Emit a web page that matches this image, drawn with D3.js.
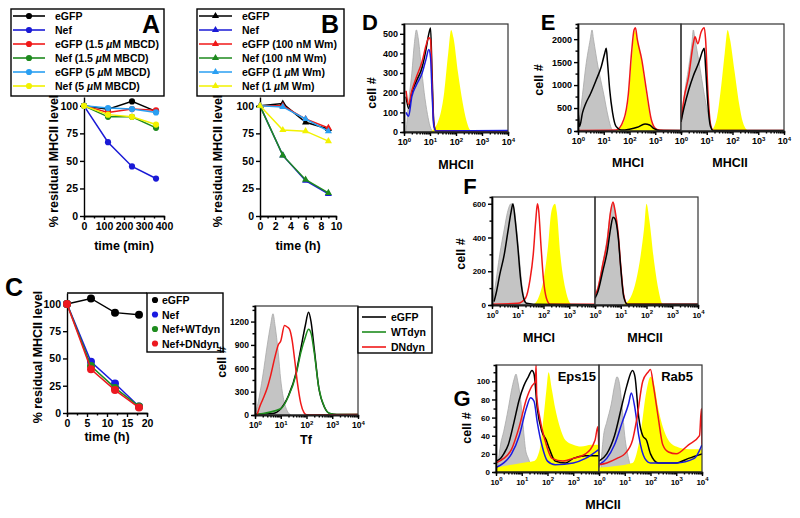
<!DOCTYPE html>
<html>
<head>
<meta charset="utf-8">
<script src="https://cdn.jsdelivr.net/npm/d3@7"></script>
<style>
  body { margin: 0; background: #fff; }
  svg { font-family: Arial, "Liberation Sans", sans-serif; font-weight: bold; }
</style>
</head>
<body>
<svg id="fig" width="800" height="518"></svg>
<script>
// ---------- panel A : MBCD time course ----------
var timeA = [0, 120, 240, 360];
var namesA = ["eGFP", "Nef", "eGFP (1.5 µM MBCD)", "Nef (1.5 µM MBCD)", "eGFP (5 µM MBCD)", "Nef (5 µM MBCD)"];
var eGFP_A = [100, 97, 104, 95];
var nef_A = [100, 67, 45, 34];
var eGFP15_A = [100, 94, 97, 96];
var nef15_A = [100, 90, 90, 80];
var eGFP5_A = [100, 98, 97, 94];
var nef5_A = [100, 92, 90, 83];

// ---------- panel B : wortmannin time course ----------
var timeB = [0, 3, 6, 9];
var namesB = ["eGFP", "Nef", "eGFP (100 nM Wm)", "Nef (100 nM Wm)", "eGFP (1 µM Wm)", "Nef (1 µM Wm)"];
var eGFP_B = [100, 102, 85, 79];
var nef_B = [100, 55, 32, 20];
var eGFP100_B = [100, 100, 88, 80];
var nef100_B = [100, 55, 33, 21];
var eGFP1_B = [100, 99, 88, 77];
var nef1_B = [100, 78, 77, 68];

// ---------- panel C : dynamin ----------
var timeC = [0, 6, 12, 18];
var namesC = ["eGFP", "Nef", "Nef+WTdyn", "Nef+DNdyn"];
var eGFP_C = [100, 105, 92, 90];
var nef_C = [100, 47, 27, 6];
var nefWT_C = [100, 43, 23, 6];
var nefDN_C = [100, 40, 21, 5];

// histograms: [fluorescence, cell count]
var namesTf = ["eGFP", "WTdyn", "DNdyn"];
var tfGray = [[1,0],[1.3,150],[2,500],[3,900],[4,1150],[5,1300],[6,1150],[8,800],[10,450],[13,200],[18,50],[25,0]];
var tfEGFP = [[1,10],[5,20],[10,80],[20,250],[40,550],[60,850],[90,1150],[120,1320],[150,1200],[200,850],[300,350],[500,100],[800,20],[1500,5],[10000,5]];
var tfWT = [[1,5],[10,80],[20,240],[40,530],[60,800],[90,1000],[120,1100],[150,1050],[200,800],[300,350],[500,100],[800,20],[1500,5],[10000,5]];
var tfDN = [[1.2,0],[1.5,100],[2,200],[3,350],[4,500],[6,750],[8,900],[10,950],[14,1150],[18,1130],[22,1100],[28,950],[35,700],[45,400],[60,150],[80,30],[100,3],[10000,5]];

var dGray = [[1.2,0],[1.5,150],[2,300],[2.5,450],[3,520],[3.5,480],[4.5,350],[6,200],[8,90],[10,30],[13,0]];
var dYellow = [[10,0],[20,50],[35,200],[50,400],[65,520],[80,480],[120,300],[180,150],[250,60],[350,10],[500,0]];
var dBlack = [[1.2,180],[1.5,120],[2,200],[3,260],[5,330],[7,420],[9,500],[10.5,530],[12,300],[14,50],[17,5],[10000,5]];
var dRed = [[1.2,210],[1.5,140],[2,210],[3,280],[5,360],[7,440],[9,480],[10.5,470],[12,250],[14,40],[17,5],[10000,5]];
var dBlue = [[1.2,100],[1.5,80],[2,180],[3,240],[5,300],[7,370],[9,420],[10.5,380],[12,200],[14,30],[17,5],[10000,8]];

var eIGray = [[1,0],[1.5,800],[2,1400],[3,2000],[3.5,2200],[4,2000],[6,1400],[10,800],[15,300],[20,50],[25,0]];
var eIYellow = [[30,0],[60,200],[90,700],[120,1500],[160,2200],[200,2000],[300,1500],[450,800],[700,200],[1000,30],[1500,0]];
var eIBlack = [[1,450],[1.15,100],[1.5,400],[2,600],[3,800],[5,1100],[8,1400],[11,1700],[12.5,1800],[14,1500],[17,900],[22,400],[30,100],[50,20],[100,40],[200,80],[400,150],[600,130],[900,50],[1500,10],[10000,10]];
var eIRed = [[1,10],[30,20],[60,250],[90,800],[120,1700],[150,2200],[170,2250],[200,2000],[300,1550],[450,900],[700,250],[1000,60],[1500,20],[10000,10]];
var eIIGray = [[1,0],[1.3,700],[2,1400],[2.7,1950],[3,2200],[3.5,2000],[5,1500],[8,800],[12,300],[16,50],[20,0]];
var eIIYellow = [[15,0],[25,300],[35,900],[50,1700],[65,2200],[80,2000],[120,1300],[180,600],[250,200],[350,30],[450,0]];
var eIIBlack = [[1,200],[1.3,500],[2,900],[3,1200],[5,1500],[7,1750],[8,1800],[9,1400],[11,600],[14,100],[18,10],[10000,10]];
var eIIRed = [[1,200],[1.3,700],[2,1200],[3,1900],[3.5,2050],[4.5,1900],[6,2150],[8,2250],[9,2000],[11,900],[14,150],[18,10],[10000,10]];

var fIGray = [[1,0],[1.3,100],[2,300],[3,450],[4,550],[5.5,600],[7,580],[9,450],[12,250],[15,100],[20,20],[25,0]];
var fIYellow = [[40,0],[70,60],[100,150],[150,350],[200,550],[280,600],[330,550],[450,300],[700,100],[1000,20],[1300,0]];
var fIBlack = [[1.2,20],[1.5,80],[2,180],[3,300],[4,420],[5.5,550],[6.5,600],[8,500],[10,350],[13,150],[17,40],[22,10],[40,5],[10000,2]];
var fIRed = [[1,5],[10,10],[20,40],[30,150],[40,300],[50,500],[58,600],[65,560],[80,350],[100,150],[130,40],[180,5],[10000,5]];
var fIIGray = [[1,0],[1.3,100],[2,250],[3,400],[4,550],[5,600],[6,550],[8,400],[10,200],[13,60],[18,0]];
var fIIYellow = [[12,0],[25,50],[40,150],[60,300],[80,450],[100,600],[130,500],[200,250],[300,80],[400,10],[500,0]];
var fIIBlack = [[1,40],[1.3,80],[2,200],[3,320],[4,450],[5,520],[6,510],[8,400],[10,220],[13,50],[18,5],[10000,5]];
var fIIRed = [[1,60],[1.3,100],[2,240],[3,380],[4,550],[5,610],[6,560],[8,420],[10,230],[13,60],[18,5],[10000,5]];

var gEGray = [[1.2,10],[1.5,30],[2,45],[3,70],[4,90],[5,102],[6,108],[7,100],[9,80],[11,55],[14,25],[18,15],[30,0]];
var gEYellow = [[1,5],[10,10],[30,12],[50,25],[70,60],[90,90],[110,110],[150,90],[200,70],[300,50],[500,35],[1000,30],[2000,28],[5000,30],[10000,30]];
var gEBlack = [[1,12],[1.5,15],[2,20],[3,30],[5,55],[8,80],[12,95],[18,105],[25,112],[30,108],[40,70],[60,45],[90,35],[120,25],[200,12],[500,10],[1000,15],[3000,18],[10000,18]];
var gERed = [[1,10],[2,15],[4,25],[8,50],[15,80],[25,95],[34,100],[36,118],[38,85],[50,60],[80,35],[150,15],[400,12],[1000,15],[3000,20],[7000,35],[9000,50],[10000,20]];
var gEBlue = [[1,5],[2,10],[4,20],[8,40],[15,70],[22,82],[30,78],[40,55],[60,30],[100,12],[200,8],[1000,10],[3000,15],[10000,25]];
var gRGray = [[1.2,10],[1.5,40],[2,55],[3,75],[4,95],[5,105],[6,100],[8,70],[10,40],[14,15],[20,0]];
var gRYellow = [[1,5],[20,10],[40,40],[70,90],[100,105],[130,100],[200,70],[300,50],[500,35],[1000,28],[3000,25],[10000,25]];
var gRBlack = [[1,12],[2,20],[4,40],[8,75],[12,95],[20,112],[25,105],[35,60],[50,40],[70,35],[100,20],[200,10],[1000,10],[3000,15],[10000,20]];
var gRBlue = [[1,8],[2,15],[4,30],[8,55],[14,75],[18,87],[25,70],[35,40],[60,15],[100,10],[1000,10],[5000,15],[10000,30]];
var gRRed = [[1,8],[2,10],[5,15],[10,20],[20,35],[30,60],[50,100],[80,110],[100,113],[130,95],[200,60],[300,30],[500,22],[1000,20],[3000,30],[8000,40],[9500,70],[10000,30]];

var colorsAB = ["#000000", "#1a1ad6", "#f01818", "#1e8a1e", "#2a9ff2", "#f2f200"];
var colorsC = ["#000000", "#1a1ae0", "#1e8c1e", "#ec1820"];
var gray = "#c4c4c4", yellow = "#ffff00", red = "#f01818", blue = "#1a1ae0", green = "#1e8c1e";

var svg = d3.select("#fig");

// text with an italic mu
function richText(sel, str) {
  str.split(/(µ)/).forEach(function(p) {
    if (!p) return;
    sel.append("tspan").attr("font-style", p === "µ" ? "italic" : null).text(p);
  });
}

function styleAxis(g, fs) {
  g.selectAll("path, line").attr("stroke", "#000").attr("stroke-width", 1.4);
  g.selectAll("text").attr("font-size", fs).attr("font-weight", "bold").attr("fill", "#000")
    .attr("font-family", "Arial, 'Liberation Sans', sans-serif");
}

function linePlot(cfg) {
  var x = d3.scaleLinear().domain(cfg.xDomain).range(cfg.xRange);
  var y = d3.scaleLinear().domain(cfg.yDomain).range(cfg.yRange);
  var g = svg.append("g");

  g.append("g").attr("transform", "translate(0," + cfg.yRange[0] + ")")
    .call(d3.axisBottom(x).tickValues(cfg.xMinor).tickSize(2.5).tickFormat(""))
    .call(styleAxis, 10.5);
  g.append("g").attr("transform", "translate(0," + cfg.yRange[0] + ")")
    .call(d3.axisBottom(x).tickValues(cfg.xTicks).tickSize(4).tickSizeOuter(0).tickPadding(3))
    .call(styleAxis, 10.5);
  g.append("g").attr("transform", "translate(" + cfg.xRange[0] + ",0)")
    .call(d3.axisLeft(y).tickValues([0, 25, 50, 75, 100]).tickSize(4).tickSizeOuter(0).tickPadding(2))
    .call(styleAxis, 10.5);

  cfg.series.forEach(function(s, i) {
    var pts = cfg.time.map(function(t, j) { return [t, s[j]]; });
    g.append("path").datum(pts)
      .attr("d", d3.line().x(function(d) { return x(d[0]); }).y(function(d) { return y(d[1]); }))
      .attr("fill", "none").attr("stroke", cfg.colors[i]).attr("stroke-width", 1.5);
    g.selectAll(null).data(pts).enter().append("path")
      .attr("transform", function(d) { return "translate(" + x(d[0]) + "," + y(d[1]) + ")"; })
      .attr("d", d3.symbol().type(cfg.symbol).size(cfg.symSize))
      .attr("fill", cfg.colors[i]);
  });

  g.append("text").attr("transform", "translate(" + cfg.yLabelX + "," + cfg.yLabelY + ") rotate(-90)")
    .attr("text-anchor", "middle").attr("font-size", 12.5).text("% residual MHCII level");
  g.append("text").attr("x", cfg.xLabelX).attr("y", cfg.xLabelY)
    .attr("text-anchor", "middle").attr("font-size", 12.5).text(cfg.xLabel);
  return g;
}

function legendBox(bx, by, bw, bh, names, colors, symbol, symSize, lineX0, lineX1, textX, rowY, rowH, withLine, fs) {
  var g = svg.append("g");
  g.append("rect").attr("x", bx).attr("y", by).attr("width", bw).attr("height", bh)
    .attr("fill", "#fff").attr("stroke", "#000").attr("stroke-width", 1.4);
  names.forEach(function(n, i) {
    var yy = rowY + i * rowH;
    if (withLine) {
      g.append("line").attr("x1", lineX0).attr("x2", lineX1).attr("y1", yy).attr("y2", yy)
        .attr("stroke", colors[i]).attr("stroke-width", 1.6);
    }
    g.append("path").attr("transform", "translate(" + (lineX0 + lineX1) / 2 + "," + yy + ")")
      .attr("d", d3.symbol().type(symbol).size(symSize)).attr("fill", colors[i]);
    var t = g.append("text").attr("x", textX).attr("y", yy + 4).attr("font-size", fs);
    richText(t, n);
  });
  return g;
}

// ----- panel A -----
legendBox(11, 9, 153, 87, namesA, colorsAB, d3.symbolCircle, 30, 13, 45, 55, 16, 14, true, 10.5);
svg.append("text").attr("x", 151).attr("y", 33).attr("text-anchor", "middle").attr("font-size", 25).text("A");
linePlot({
  xDomain: [0, 400], xRange: [84, 164], yDomain: [0, 108], yRange: [216, 97],
  xTicks: [0, 100, 200, 300, 400], xMinor: [50, 150, 250, 350],
  time: timeA, series: [eGFP_A, nef_A, eGFP15_A, nef15_A, eGFP5_A, nef5_A], colors: colorsAB,
  symbol: d3.symbolCircle, symSize: 30,
  yLabelX: 58, yLabelY: 161, xLabel: "time (min)", xLabelX: 124, xLabelY: 250
});

// ----- panel B -----
legendBox(197, 9, 147, 87, namesB, colorsAB, d3.symbolTriangle, 22, 199, 232, 242, 16, 14, true, 10.5);
svg.append("text").attr("x", 330).attr("y", 33).attr("text-anchor", "middle").attr("font-size", 25).text("B");
linePlot({
  xDomain: [0, 10], xRange: [260, 336], yDomain: [0, 108], yRange: [216, 97],
  xTicks: [0, 2, 4, 6, 8, 10], xMinor: [1, 3, 5, 7, 9],
  time: timeB, series: [eGFP_B, nef_B, eGFP100_B, nef100_B, eGFP1_B, nef1_B], colors: colorsAB,
  symbol: d3.symbolTriangle, symSize: 22,
  yLabelX: 222, yLabelY: 161, xLabel: "time (h)", xLabelX: 298, xLabelY: 250
});

// ----- panel C -----
svg.append("text").attr("x", 14).attr("y", 296).attr("text-anchor", "middle").attr("font-size", 25).text("C");
linePlot({
  xDomain: [0, 20], xRange: [67, 147], yDomain: [0, 110], yRange: [413, 293],
  xTicks: [0, 5, 10, 15, 20], xMinor: [2.5, 7.5, 12.5, 17.5],
  time: timeC, series: [eGFP_C, nef_C, nefWT_C, nefDN_C], colors: colorsC,
  symbol: d3.symbolCircle, symSize: 50,
  yLabelX: 42, yLabelY: 357, xLabel: "time (h)", xLabelX: 107, xLabelY: 441
});
svg.append("line").attr("x1", 67).attr("x2", 147).attr("y1", 293).attr("y2", 293)
  .attr("stroke", "#000").attr("stroke-width", 1.4);
legendBox(147, 293, 76, 59, namesC, colorsC, d3.symbolCircle, 30, 154, 156, 162, 300, 14.5, false, 10.5);

// ----- histograms -----
function supTicks(sel) {
  sel.selectAll(".tick text").each(function(d) {
    var t = d3.select(this);
    t.text("10");
    t.append("tspan").attr("dy", "-0.55em").attr("font-size", 6).text(Math.round(Math.log10(d)));
  });
}

function histPanel(cfg) {
  var y = d3.scaleLinear().domain([0, cfg.yMax]).range([cfg.yBot, cfg.yTop]);
  var g = svg.append("g");
  cfg.subs.forEach(function(sub, k) {
    var x = d3.scaleLog().domain([1, 10000]).range([sub.x0, sub.x1]);
    var clipId = "clip" + cfg.id + k;
    g.append("clipPath").attr("id", clipId).append("rect")
      .attr("x", sub.x0).attr("y", cfg.yTop).attr("width", sub.x1 - sub.x0).attr("height", cfg.yBot - cfg.yTop);
    var area = d3.area().curve(d3.curveMonotoneX)
      .x(function(d) { return x(d[0]); }).y0(cfg.yBot).y1(function(d) { return y(d[1]); });
    var line = d3.line().curve(d3.curveMonotoneX)
      .x(function(d) { return x(d[0]); }).y(function(d) { return y(d[1]); });
    var cg = g.append("g").attr("clip-path", "url(#" + clipId + ")");
    sub.curves.forEach(function(c) {
      if (c.fill) {
        cg.append("path").datum(c.data).attr("d", area).attr("fill", c.color)
          .attr("stroke", c.color === gray ? "#a8a8a8" : "none").attr("stroke-width", 0.8);
      } else {
        cg.append("path").datum(c.data).attr("d", line).attr("fill", "none")
          .attr("stroke", c.color).attr("stroke-width", 1.5);
      }
    });
    var majors = sub.last ? [1, 10, 100, 1000, 10000] : [1, 10, 100, 1000];
    var minors = [];
    [1, 10, 100, 1000].forEach(function(p) { for (var m = 2; m < 10; m++) minors.push(p * m); });
    g.append("g").attr("transform", "translate(0," + cfg.yBot + ")")
      .call(d3.axisBottom(x).tickValues(minors).tickSize(2.5).tickFormat(""))
      .call(styleAxis, 9);
    g.append("g").attr("transform", "translate(0," + cfg.yBot + ")")
      .call(d3.axisBottom(x).tickValues(majors).tickSize(4).tickSizeOuter(0).tickPadding(3))
      .call(styleAxis, cfg.fs).call(supTicks);
    g.append("rect").attr("x", sub.x0).attr("y", cfg.yTop).attr("width", sub.x1 - sub.x0)
      .attr("height", cfg.yBot - cfg.yTop).attr("fill", "none").attr("stroke", "#333").attr("stroke-width", 1.2);
    if (sub.label) {
      g.append("text").attr("x", sub.labelX).attr("y", cfg.labelY).attr("text-anchor", "middle")
        .attr("font-size", 12.5).text(sub.label);
    }
  });
  var x0 = cfg.subs[0].x0;
  g.append("g").attr("transform", "translate(" + x0 + ",0)")
    .call(d3.axisLeft(y).tickValues(cfg.yMinor).tickSize(2.5).tickFormat(""))
    .call(styleAxis, 9);
  g.append("g").attr("transform", "translate(" + x0 + ",0)")
    .call(d3.axisLeft(y).tickValues(cfg.yTicks).tickFormat(d3.format("d")).tickSize(4).tickSizeOuter(0).tickPadding(2))
    .call(styleAxis, cfg.fs);
  g.append("text").attr("transform", "translate(" + cfg.cellX + "," + cfg.cellY + ") rotate(-90)")
    .attr("text-anchor", "middle").attr("font-size", 12.5).text("cell #");
  return g;
}

// C, right: transferrin
histPanel({
  id: "tf", fs: 8.5, yMax: 1400, yBot: 415, yTop: 306, yTicks: [0, 300, 600, 900, 1200],
  yMinor: [150, 450, 750, 1050, 1350], cellX: 226, cellY: 362, labelY: 444,
  subs: [{ x0: 255, x1: 358, last: true, label: "Tf", labelX: 306, curves: [
    { data: tfGray, color: gray, fill: true },
    { data: tfEGFP, color: "#000" },
    { data: tfWT, color: green },
    { data: tfDN, color: red }
  ]}]
});
legendBox(358, 307, 74, 46, namesTf, ["#000", green, red], d3.symbolCircle, 0, 362, 386, 391, 317, 15, true, 10.5);

// D
svg.append("text").attr("x", 370).attr("y", 30).attr("text-anchor", "middle").attr("font-size", 22).text("D");
histPanel({
  id: "d", fs: 9, yMax: 550, yBot: 132, yTop: 24, yTicks: [0, 100, 200, 300, 400, 500],
  yMinor: [50, 150, 250, 350, 450], cellX: 376, cellY: 93, labelY: 169,
  subs: [{ x0: 404, x1: 508, last: true, label: "MHCII", labelX: 456, curves: [
    { data: dGray, color: gray, fill: true },
    { data: dYellow, color: yellow, fill: true },
    { data: dBlack, color: "#000" },
    { data: dRed, color: red },
    { data: dBlue, color: blue }
  ]}]
});

// E
svg.append("text").attr("x", 548).attr("y", 30).attr("text-anchor", "middle").attr("font-size", 22).text("E");
histPanel({
  id: "e", fs: 9, yMax: 2330, yBot: 131, yTop: 24, yTicks: [0, 500, 1000, 1500, 2000],
  yMinor: [250, 750, 1250, 1750, 2250], cellX: 543, cellY: 80, labelY: 167,
  subs: [
    { x0: 578, x1: 681, last: false, label: "MHCI", labelX: 628, curves: [
      { data: eIGray, color: gray, fill: true },
      { data: eIYellow, color: yellow, fill: true },
      { data: eIRed, color: red },
      { data: eIBlack, color: "#000" }
    ]},
    { x0: 681, x1: 784, last: true, label: "MHCII", labelX: 730, curves: [
      { data: eIIGray, color: gray, fill: true },
      { data: eIIYellow, color: yellow, fill: true },
      { data: eIIRed, color: red },
      { data: eIIBlack, color: "#000" }
    ]}
  ]
});

// F
svg.append("text").attr("x", 470).attr("y", 194).attr("text-anchor", "middle").attr("font-size", 22).text("F");
histPanel({
  id: "f", fs: 8, yMax: 640, yBot: 305, yTop: 197, yTicks: [0, 200, 400, 600],
  yMinor: [100, 300, 500], cellX: 465, cellY: 254, labelY: 342,
  subs: [
    { x0: 492, x1: 595, last: false, label: "MHCI", labelX: 539, curves: [
      { data: fIGray, color: gray, fill: true },
      { data: fIYellow, color: yellow, fill: true },
      { data: fIRed, color: red },
      { data: fIBlack, color: "#000" }
    ]},
    { x0: 595, x1: 698, last: true, label: "MHCII", labelX: 645, curves: [
      { data: fIIGray, color: gray, fill: true },
      { data: fIIYellow, color: yellow, fill: true },
      { data: fIIRed, color: red },
      { data: fIIBlack, color: "#000" }
    ]}
  ]
});

// G
svg.append("text").attr("x", 462).attr("y", 406).attr("text-anchor", "middle").attr("font-size", 22).text("G");
histPanel({
  id: "g", fs: 8, yMax: 118, yBot: 472, yTop: 365, yTicks: [0, 20, 40, 60, 80, 100],
  yMinor: [10, 30, 50, 70, 90, 110], cellX: 471, cellY: 428, labelY: 509,
  subs: [
    { x0: 496, x1: 599, last: false, label: null, curves: [
      { data: gEGray, color: gray, fill: true },
      { data: gEYellow, color: yellow, fill: true },
      { data: gEBlack, color: "#000" },
      { data: gERed, color: red },
      { data: gEBlue, color: blue }
    ]},
    { x0: 599, x1: 702, last: true, label: null, curves: [
      { data: gRGray, color: gray, fill: true },
      { data: gRYellow, color: yellow, fill: true },
      { data: gRBlack, color: "#000" },
      { data: gRBlue, color: blue },
      { data: gRRed, color: red }
    ]}
  ]
});
svg.append("text").attr("x", 603).attr("y", 509).attr("text-anchor", "middle").attr("font-size", 12.5).text("MHCII");
svg.append("text").attr("x", 596).attr("y", 381).attr("text-anchor", "end").attr("font-size", 13).text("Eps15");
svg.append("text").attr("x", 693).attr("y", 381).attr("text-anchor", "end").attr("font-size", 13).text("Rab5");
</script>
</body>
</html>
